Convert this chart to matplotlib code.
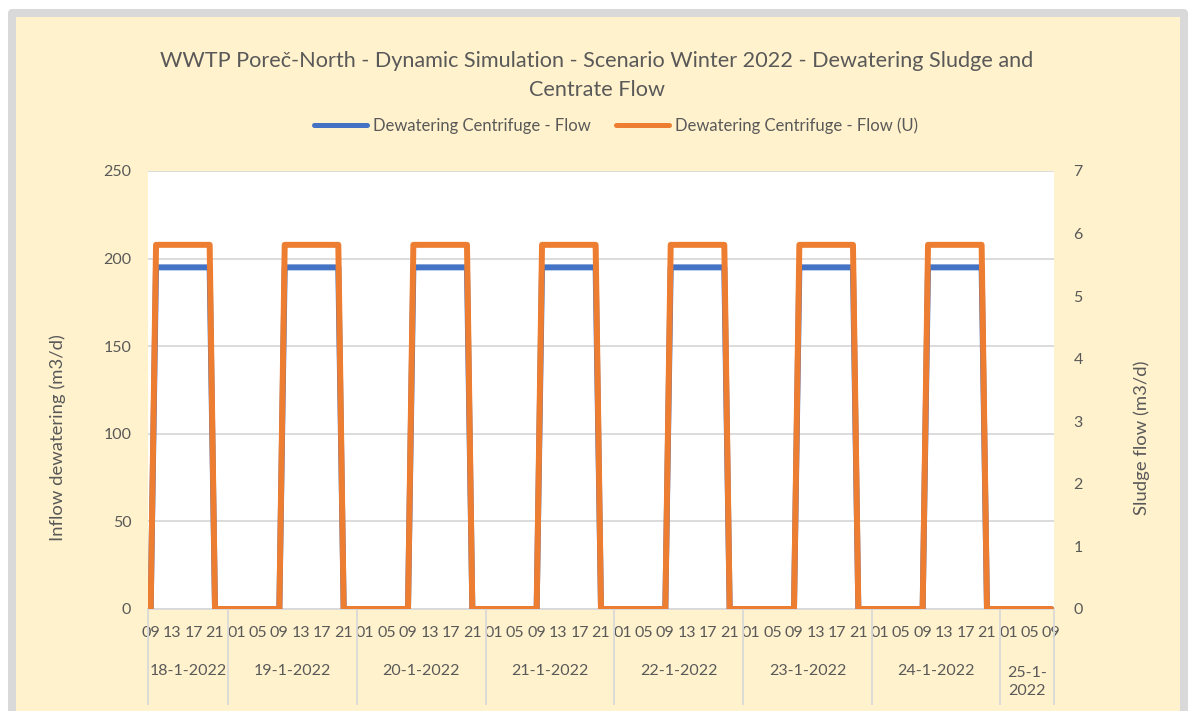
import matplotlib.pyplot as plt
from matplotlib.lines import Line2D
from matplotlib.patches import Rectangle

plt.rcParams['font.family'] = ['Lato', 'DejaVu Sans']

TEXT = '#595959'
GRID = '#D9D9D9'
BLUE = '#4472C4'
ORANGE = '#ED7D31'
PAPER = '#FFF2CC'

# hourly samples from 18-1-2022 09:00 to 25-1-2022 09:00
dates = ['18-1-2022', '19-1-2022', '20-1-2022', '21-1-2022',
         '22-1-2022', '23-1-2022', '24-1-2022', '25-1-\n2022']
first_hour = [9, 0, 0, 0, 0, 0, 0, 0]

# inflow to dewatering (m3/d), one list per day
centrifuge_flow = [
    [0, 195, 195, 195, 195, 195, 195, 195, 195, 195, 195, 195, 0, 0, 0],
    [0, 0, 0, 0, 0, 0, 0, 0, 0, 0, 195, 195, 195, 195, 195, 195, 195, 195, 195, 195, 195, 0, 0, 0],
    [0, 0, 0, 0, 0, 0, 0, 0, 0, 0, 195, 195, 195, 195, 195, 195, 195, 195, 195, 195, 195, 0, 0, 0],
    [0, 0, 0, 0, 0, 0, 0, 0, 0, 0, 195, 195, 195, 195, 195, 195, 195, 195, 195, 195, 195, 0, 0, 0],
    [0, 0, 0, 0, 0, 0, 0, 0, 0, 0, 195, 195, 195, 195, 195, 195, 195, 195, 195, 195, 195, 0, 0, 0],
    [0, 0, 0, 0, 0, 0, 0, 0, 0, 0, 195, 195, 195, 195, 195, 195, 195, 195, 195, 195, 195, 0, 0, 0],
    [0, 0, 0, 0, 0, 0, 0, 0, 0, 0, 195, 195, 195, 195, 195, 195, 195, 195, 195, 195, 195, 0, 0, 0],
    [0, 0, 0, 0, 0, 0, 0, 0, 0, 0],
]

# sludge flow (m3/d), one list per day
sludge_flow = [
    [0, 5.82, 5.82, 5.82, 5.82, 5.82, 5.82, 5.82, 5.82, 5.82, 5.82, 5.82, 0, 0, 0],
    [0, 0, 0, 0, 0, 0, 0, 0, 0, 0, 5.82, 5.82, 5.82, 5.82, 5.82, 5.82, 5.82, 5.82, 5.82, 5.82, 5.82, 0, 0, 0],
    [0, 0, 0, 0, 0, 0, 0, 0, 0, 0, 5.82, 5.82, 5.82, 5.82, 5.82, 5.82, 5.82, 5.82, 5.82, 5.82, 5.82, 0, 0, 0],
    [0, 0, 0, 0, 0, 0, 0, 0, 0, 0, 5.82, 5.82, 5.82, 5.82, 5.82, 5.82, 5.82, 5.82, 5.82, 5.82, 5.82, 0, 0, 0],
    [0, 0, 0, 0, 0, 0, 0, 0, 0, 0, 5.82, 5.82, 5.82, 5.82, 5.82, 5.82, 5.82, 5.82, 5.82, 5.82, 5.82, 0, 0, 0],
    [0, 0, 0, 0, 0, 0, 0, 0, 0, 0, 5.82, 5.82, 5.82, 5.82, 5.82, 5.82, 5.82, 5.82, 5.82, 5.82, 5.82, 0, 0, 0],
    [0, 0, 0, 0, 0, 0, 0, 0, 0, 0, 5.82, 5.82, 5.82, 5.82, 5.82, 5.82, 5.82, 5.82, 5.82, 5.82, 5.82, 0, 0, 0],
    [0, 0, 0, 0, 0, 0, 0, 0, 0, 0],
]

title_lines = ['WWTP Poreč-North - Dynamic Simulation - Scenario Winter 2022 - Dewatering Sludge and',
               'Centrate Flow']
series_names = ['Dewatering Centrifuge - Flow', 'Dewatering Centrifuge - Flow (U)']

# flatten the day lists into one category axis
flow = [v for day in centrifuge_flow for v in day]
sludge = [v for day in sludge_flow for v in day]
hours = []
day_start = []
for h0, day in zip(first_hour, centrifuge_flow):
    day_start.append(len(hours))
    hours += [(h0 + i) % 24 for i in range(len(day))]
n = len(hours)
xs = list(range(n))

W, H = 1194, 711


def fx(px):
    return px / W


def fy(py):
    return 1 - py / H


fig = plt.figure(figsize=(W / 100, H / 100), dpi=100)
fig.patch.set_facecolor('white')

# chart frame, kept under the axes
frame = Rectangle((fx(12), fy(760)), fx(1184) - fx(12), fy(13) - fy(760),
                  transform=fig.transFigure, facecolor=PAPER, edgecolor=GRID,
                  linewidth=8 * 0.72, joinstyle='round', zorder=-5)
fig.patches.append(frame)

ax = fig.add_axes([fx(148), fy(609), fx(1054) - fx(148), fy(171) - fy(609)])
ax.set_zorder(1)
ax.set_facecolor('white')
ax.plot(xs, flow, color=BLUE, lw=4.3, solid_joinstyle='round',
        solid_capstyle='round', zorder=3)
ax.set_xlim(-0.5, n - 0.5)
ax.set_ylim(0, 250)
ax.set_yticks(range(0, 251, 50))
ax.grid(axis='y', color=GRID, lw=1.3)
ax.set_axisbelow(True)
for side in ['top', 'left', 'right']:
    ax.spines[side].set_visible(False)
ax.spines['bottom'].set_color(GRID)
ax.spines['bottom'].set_linewidth(1.3)
ax.tick_params(axis='y', length=0, pad=12, labelsize=11.5, labelcolor=TEXT)

ax.set_xticks(xs[::4])
ax.set_xticklabels([f'{h:02d}' for h in hours[::4]])
ax.tick_params(axis='x', length=0, pad=12, labelsize=11.5, labelcolor=TEXT)

ax2 = ax.twinx()
ax2.set_zorder(2)
ax2.patch.set_visible(False)
ax2.plot(xs, sludge, color=ORANGE, lw=4.3, solid_joinstyle='round',
         solid_capstyle='round', zorder=3)
ax2.set_ylim(0, 7)
ax2.set_yticks(range(0, 8))
for side in ax2.spines:
    ax2.spines[side].set_visible(False)
ax2.tick_params(axis='y', length=0, pad=14, labelsize=11.5, labelcolor=TEXT)

# date groups under the hour labels
bounds = [s - 0.5 for s in day_start] + [n - 0.5]
ax.vlines(bounds, -96 / 438, 0, transform=ax.get_xaxis_transform(),
          colors=GRID, lw=1.3, clip_on=False)
for d, a, b in zip(dates, bounds[:-1], bounds[1:]):
    ax.text((a + b) / 2, -62 / 438 if '\n' not in d else -73 / 438, d,
            transform=ax.get_xaxis_transform(), ha='center', va='center',
            fontsize=11.5, color=TEXT, linespacing=1.45)

fig.text(fx(58), fy(438), 'Inflow dewatering (m3/d)', rotation=90,
         ha='center', va='center', fontsize=13.3, color=TEXT)
fig.text(fx(1142), fy(438), 'Sludge flow (m3/d)', rotation=90,
         ha='center', va='center', fontsize=13.3, color=TEXT)

fig.text(0.5, fy(61), title_lines[0], ha='center', va='center',
         fontsize=15.6, color=TEXT)
fig.text(0.5, fy(90), title_lines[1], ha='center', va='center',
         fontsize=15.6, color=TEXT)

handles = [Line2D([], [], color=BLUE, lw=3.6, solid_capstyle='round'),
           Line2D([], [], color=ORANGE, lw=3.6, solid_capstyle='round')]
fig.legend(handles, series_names, loc='center', bbox_to_anchor=(fx(616), fy(126)),
           ncol=2, frameon=False, fontsize=12, labelcolor=TEXT,
           handlelength=3.2, handletextpad=0.35, columnspacing=1.5)

fig.savefig('out.png', dpi=100)
